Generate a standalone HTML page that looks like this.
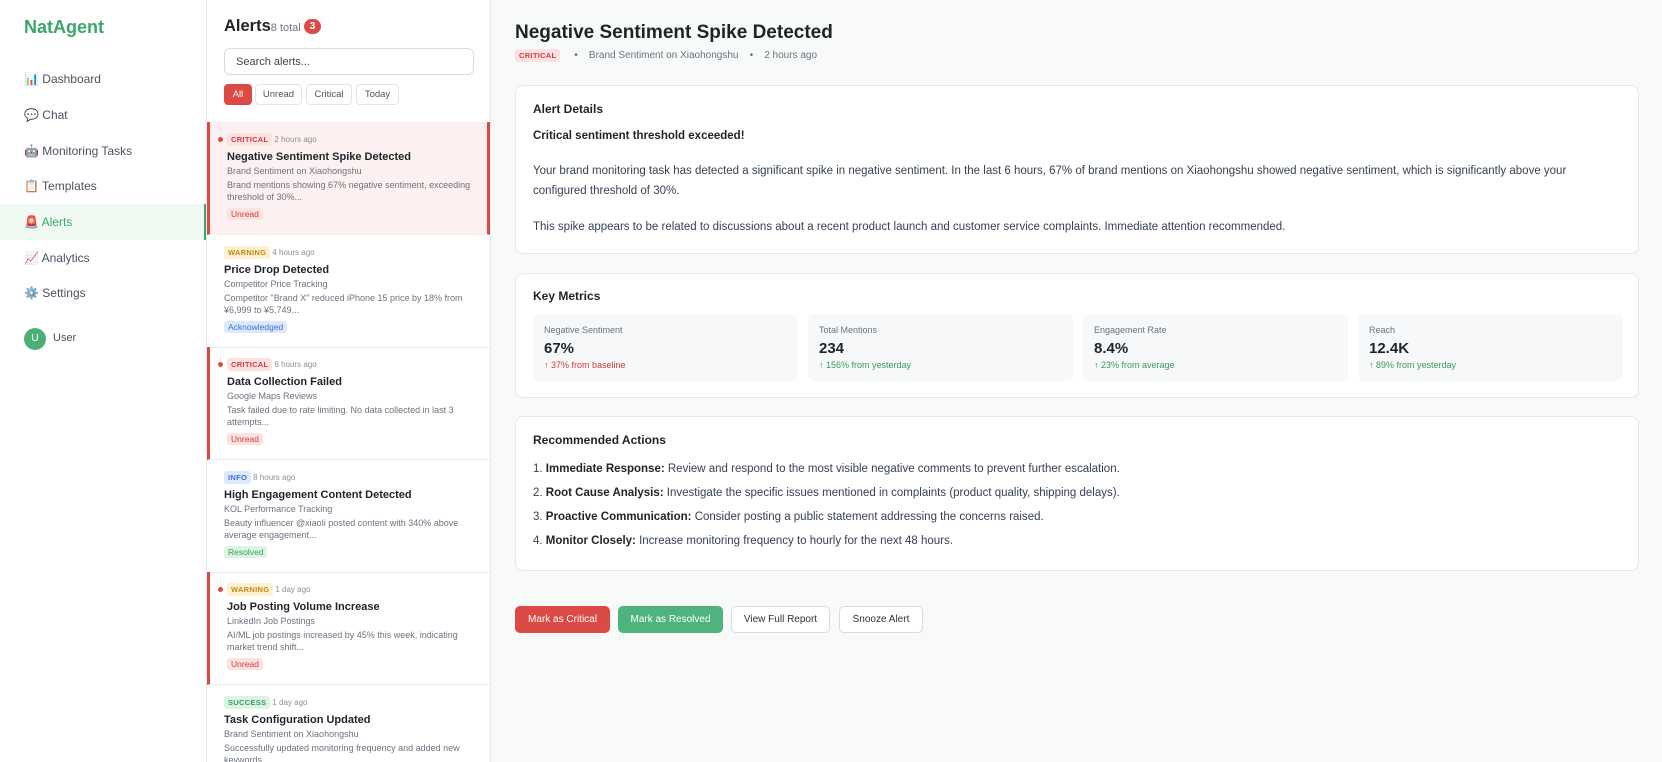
<!DOCTYPE html>
<html><head><meta charset="utf-8"><style>
*{box-sizing:border-box;margin:0;padding:0}
body{width:1662px;height:762px;overflow:hidden;font-family:"Liberation Sans",sans-serif;background:#f8f9f9;color:#1f2328;position:relative}
.side{position:absolute;left:0;top:0;width:207px;height:762px;background:#fff;border-right:1px solid #e8eaec}
.logo{position:absolute;left:24px;top:17px;font-size:18px;font-weight:bold;color:#3ba66b}
.nav{position:absolute;left:0;width:206px;height:36px;font-size:12px;color:#4b5260;padding-left:24px;line-height:36px}
.nav.act{background:#f0faf3;color:#3ba66b;border-right:2px solid #3ba66b}
.av{position:absolute;left:24px;top:328px;width:22px;height:22px;border-radius:50%;background:#4caf78;color:#fff;font-size:10px;text-align:center;line-height:22px}
.list{position:absolute;left:207px;top:0;width:284px;height:762px;background:#fff;border-right:1px solid #e8eaec;overflow:hidden}
.h{position:absolute;left:17px;top:17px;font-size:16.5px;font-weight:bold}
.h small{font-size:11px;font-weight:normal;color:#6b7280}
.cnt{position:absolute;left:94px;top:19px;width:17px;height:15px;border-radius:8px;background:#dc4a45;color:#fff;font-size:10px;text-align:center;line-height:15px;font-weight:bold}
.search{position:absolute;left:17px;top:48px;width:250px;height:27px;border:1px solid #d8dbdf;border-radius:6px;font-size:11px;color:#444;padding:7px 11px}
.f{position:absolute;top:84px;height:21px;border:1px solid #e2e4e7;border-radius:4px;font-size:9.5px;color:#555;text-align:center;line-height:19px}
.item{position:absolute;left:0;width:283px;height:113px;border-bottom:1px solid #eceef0;padding-left:17px}
.item.u{border-left:3px solid #dc4a45;padding-left:17px}
.item.sel{background:#fdf0f0;border-right:3px solid #dc4a45}
.dot{position:absolute;left:8px;top:15px;width:5px;height:5px;border-radius:50%;background:#dc4a45}
.b{display:inline-block;font-size:7.5px;font-weight:bold;letter-spacing:.3px;padding:2px 4px;border-radius:3px;margin-top:11px}
.t{font-size:8px;color:#8a8f98;margin-left:2px}
.crit{background:#fbe2e2;color:#d43b36}.warn{background:#fdf1cf;color:#c6861a}.info{background:#dde8fd;color:#3d6fd8}.succ{background:#dcf4e4;color:#3b9b5e}
.tt{font-size:11px;font-weight:bold;margin-top:4px;color:#1f2328}
.src{font-size:9px;color:#6b7280;margin-top:3px}
.ds{font-size:9px;color:#6b7280;margin-top:3px;line-height:12px;width:250px}
.st{display:inline-block;font-size:8.5px;padding:1px 4px;border-radius:3px;margin-top:5px}
.title{position:absolute;left:515px;top:22px;font-size:19px;font-weight:bold;white-space:nowrap}
.meta{position:absolute;left:515px;top:49px;font-size:10px;color:#6b7280;white-space:nowrap}
.card{position:absolute;left:515px;width:1124px;background:#fff;border:1px solid #e6e8eb;border-radius:8px;padding:0 17px}
.ch{font-size:12px;font-weight:bold;position:absolute;left:17px}
.p{position:absolute;left:17px;font-size:11.5px;color:#374151;line-height:20px;white-space:nowrap}
.m{position:absolute;top:40px;width:265px;height:67px;background:#f7f8f9;border-radius:6px;padding:11px 11px}
.ml{font-size:9px;color:#6b7280}.mv{font-size:15px;font-weight:bold;margin-top:5px}.mc{font-size:9px;margin-top:3px}
.btn{position:absolute;top:606px;height:27px;border-radius:5px;font-size:10px;text-align:center;line-height:25px;border:1px solid #d8dbdf;background:#fff;color:#333}
</style></head><body>
<div class="side">
<div class="logo">NatAgent</div>
<div class="nav" style="top:61px">📊 Dashboard</div>
<div class="nav" style="top:97px">💬 Chat</div>
<div class="nav" style="top:133px">🤖 Monitoring Tasks</div>
<div class="nav" style="top:168px">📋 Templates</div>
<div class="nav act" style="top:204px">🚨 Alerts</div>
<div class="nav" style="top:240px">📈 Analytics</div>
<div class="nav" style="top:275px">⚙️ Settings</div>
<div class="av">U</div><div style="position:absolute;left:53px;top:332px;font-size:11px;color:#4b5260">User</div>
</div>
<div class="list">
<div class="h">Alerts<small>8 total</small></div><div class="cnt" style="left:97px">3</div>
<div class="search">Search alerts...</div>
<div class="f" style="left:17px;width:28px;background:#dc4a45;border-color:#dc4a45;color:#fff">All</div>
<div class="f" style="left:48px;width:47px">Unread</div>
<div class="f" style="left:99px;width:46px">Critical</div>
<div class="f" style="left:149px;width:43px">Today</div>
<div class="item u sel" style="top:122px"><div class="dot"></div><span class="b crit">CRITICAL</span><span class="t">2 hours ago</span><div class="tt">Negative Sentiment Spike Detected</div><div class="src">Brand Sentiment on Xiaohongshu</div><div class="ds">Brand mentions showing 67% negative sentiment, exceeding threshold of 30%...</div><span class="st crit">Unread</span></div>
<div class="item" style="top:235px"><span class="b warn">WARNING</span><span class="t">4 hours ago</span><div class="tt">Price Drop Detected</div><div class="src">Competitor Price Tracking</div><div class="ds">Competitor "Brand X" reduced iPhone 15 price by 18% from ¥6,999 to ¥5,749...</div><span class="st info">Acknowledged</span></div>
<div class="item u" style="top:347px"><div class="dot"></div><span class="b crit">CRITICAL</span><span class="t">6 hours ago</span><div class="tt">Data Collection Failed</div><div class="src">Google Maps Reviews</div><div class="ds">Task failed due to rate limiting. No data collected in last 3 attempts...</div><span class="st crit">Unread</span></div>
<div class="item" style="top:460px"><span class="b info">INFO</span><span class="t">8 hours ago</span><div class="tt">High Engagement Content Detected</div><div class="src">KOL Performance Tracking</div><div class="ds">Beauty influencer @xiaoli posted content with 340% above average engagement...</div><span class="st succ">Resolved</span></div>
<div class="item u" style="top:572px"><div class="dot"></div><span class="b warn">WARNING</span><span class="t">1 day ago</span><div class="tt">Job Posting Volume Increase</div><div class="src">LinkedIn Job Postings</div><div class="ds">AI/ML job postings increased by 45% this week, indicating market trend shift...</div><span class="st crit">Unread</span></div>
<div class="item" style="top:685px"><span class="b succ">SUCCESS</span><span class="t">1 day ago</span><div class="tt">Task Configuration Updated</div><div class="src">Brand Sentiment on Xiaohongshu</div><div class="ds">Successfully updated monitoring frequency and added new keywords...</div></div>
</div>
<div class="title">Negative Sentiment Spike Detected</div>
<div class="meta"><span class="b crit" style="margin:0">CRITICAL</span> &nbsp; &nbsp; • &nbsp; &nbsp;Brand Sentiment on Xiaohongshu &nbsp; &nbsp;• &nbsp; &nbsp;2 hours ago</div>
<div class="card" style="top:85px;height:169px">
<div class="ch" style="top:16px">Alert Details</div>
<div class="p" style="top:40px;font-weight:bold;color:#1f2328">Critical sentiment threshold exceeded!</div>
<div class="p" style="top:75px">Your brand monitoring task has detected a significant spike in negative sentiment. In the last 6 hours, 67% of brand mentions on Xiaohongshu showed negative sentiment, which is significantly above your<br>configured threshold of 30%.</div>
<div class="p" style="top:131px">This spike appears to be related to discussions about a recent product launch and customer service complaints. Immediate attention recommended.</div>
</div>
<div class="card" style="top:273px;height:125px">
<div class="ch" style="top:15px">Key Metrics</div>
<div class="m" style="left:17px"><div class="ml">Negative Sentiment</div><div class="mv">67%</div><div class="mc" style="color:#d43b36">↑ 37% from baseline</div></div>
<div class="m" style="left:292px"><div class="ml">Total Mentions</div><div class="mv">234</div><div class="mc" style="color:#3b9b5e">↑ 156% from yesterday</div></div>
<div class="m" style="left:567px"><div class="ml">Engagement Rate</div><div class="mv">8.4%</div><div class="mc" style="color:#3b9b5e">↑ 23% from average</div></div>
<div class="m" style="left:842px"><div class="ml">Reach</div><div class="mv">12.4K</div><div class="mc" style="color:#3b9b5e">↑ 89% from yesterday</div></div>
</div>
<div class="card" style="top:416px;height:155px">
<div class="ch" style="top:16px">Recommended Actions</div>
<div class="p" style="top:40px;line-height:24px">1. <b style="color:#1f2328">Immediate Response:</b> Review and respond to the most visible negative comments to prevent further escalation.<br>2. <b style="color:#1f2328">Root Cause Analysis:</b> Investigate the specific issues mentioned in complaints (product quality, shipping delays).<br>3. <b style="color:#1f2328">Proactive Communication:</b> Consider posting a public statement addressing the concerns raised.<br>4. <b style="color:#1f2328">Monitor Closely:</b> Increase monitoring frequency to hourly for the next 48 hours.</div>
</div>
<div class="btn" style="left:515px;width:95px;background:#dc4a45;border-color:#dc4a45;color:#fff">Mark as Critical</div>
<div class="btn" style="left:618px;width:105px;background:#4fb37e;border-color:#4fb37e;color:#fff">Mark as Resolved</div>
<div class="btn" style="left:731px;width:99px">View Full Report</div>
<div class="btn" style="left:839px;width:84px">Snooze Alert</div>
</body></html>
